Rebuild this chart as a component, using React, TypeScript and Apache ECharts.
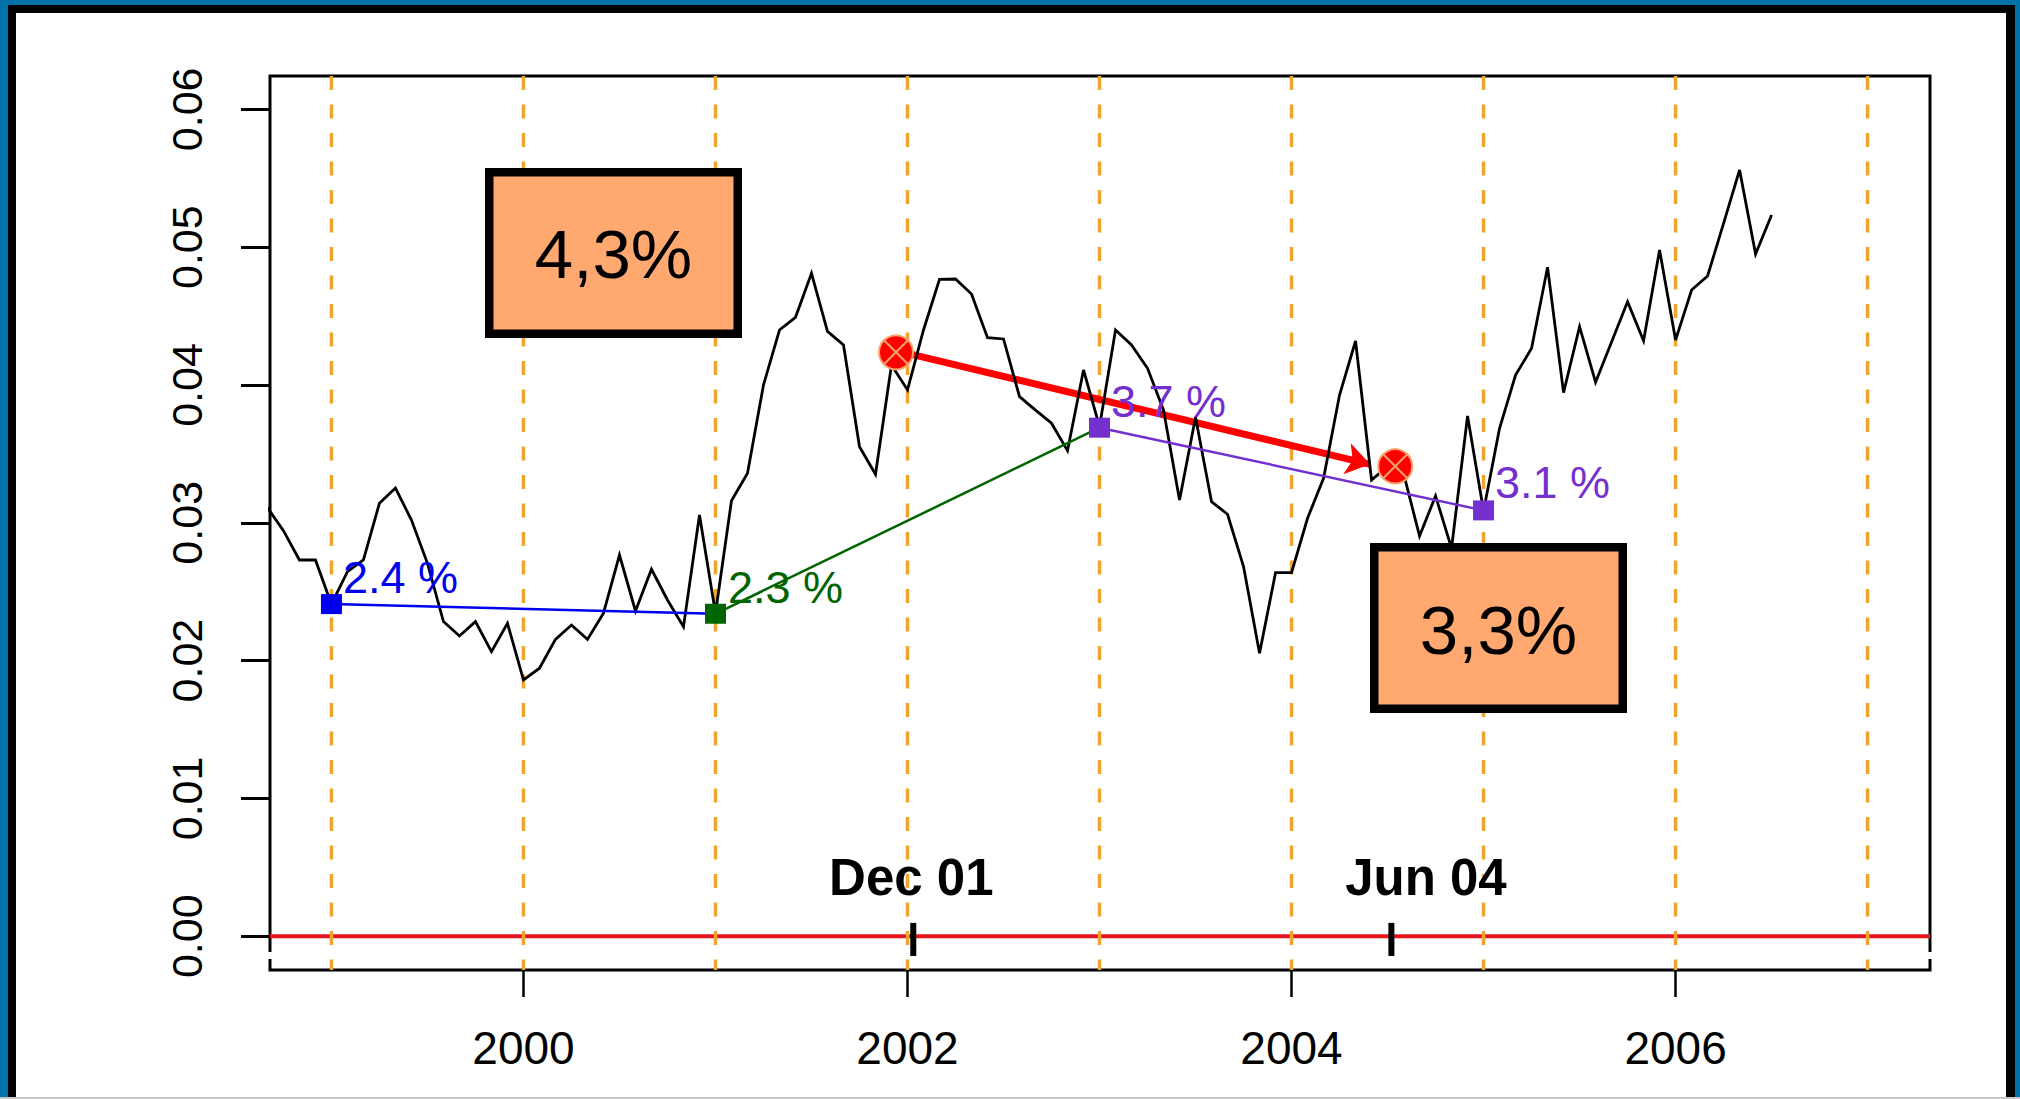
import React, { useEffect, useRef } from "react";
import * as echarts from "echarts";

const startYear = 1998 + 8 / 12;
const monthlyValues = [
  0.0311, 0.02943, 0.0273, 0.0273,
  0.02409, 0.02645, 0.0273, 0.03142, 0.03252, 0.0302, 0.02706, 0.02283, 0.02179, 0.02283, 0.02065, 0.02271,
  0.0186, 0.01945, 0.02154, 0.02258, 0.02154, 0.02344, 0.02766, 0.0236, 0.02663, 0.0244, 0.02246, 0.03057,
  0.02344, 0.0316, 0.03359, 0.04, 0.04399, 0.04491, 0.0481, 0.04389, 0.0429, 0.03552, 0.03352, 0.04145,
  0.03964, 0.04399, 0.04767, 0.04769, 0.0466, 0.04343, 0.04334, 0.03915, 0.03818, 0.03722, 0.03523, 0.04109,
  0.03697, 0.04399, 0.0429, 0.04121, 0.03818, 0.03165, 0.03766, 0.03153, 0.03062, 0.02682, 0.02053, 0.02638,
  0.02638, 0.03033, 0.03323, 0.03927, 0.04319, 0.03311, 0.03407, 0.03359, 0.02904, 0.03195, 0.02815, 0.03775,
  0.03086, 0.03686, 0.04072, 0.04266, 0.04854, 0.03944, 0.04423, 0.0402, 0.04312, 0.04604, 0.04321, 0.04979,
  0.04326, 0.04689, 0.04791, 0.05173, 0.0556, 0.0495, 0.05233,
];
const yearLines = [1999, 2000, 2001, 2002, 2003, 2004, 2005, 2006, 2007];
const xTicks = [2000, 2002, 2004, 2006];
const yTicks = [0, 0.01, 0.02, 0.03, 0.04, 0.05, 0.06];
const anchorYears = [1999, 2001, 2003, 2005];
const anchorValues = [0.0241, 0.0234, 0.0369, 0.0309];
const anchorLabels = ["2.4 %", "2.3 %", "3.7 %", "3.1 %"];
const eventYears = [2002.03, 2004.52];
const eventLabels = ["Dec 01", "Jun 04"];
const eventLabelYears = [2002.02, 2004.70];
const arrowFrom = [2002.016, 0.04224];
const arrowTo = [2004.41, 0.03424];
const circles = [[2001.94, 0.04237], [2004.54, 0.0341]];

const FONT = '"Liberation Sans", Arial, sans-serif';
const X_MIN = 1998.68;
const X_MAX = 2007.325;
const Y_MIN = -0.00245;
const Y_MAX = 0.06242;
const BLUE = "#0000EE";
const GREEN = "#006400";
const PURPLE = "#7430CF";
const ORANGE = "#F2A52B";
const FRAME = "#0070AA";
const SALMON = "#FFA970";
const anchorColors = [BLUE, GREEN, PURPLE, PURPLE];
const labelOffsets = [[1, -27], [2, -26], [1, -26], [1, -28]];

function App() {
  const ref = useRef<HTMLDivElement>(null);
  useEffect(() => {
    if (!ref.current) return;
    const chart = echarts.init(ref.current, undefined, { renderer: "svg" });
    const segment = (i: number, color: string) => ({
      type: "line",
      z: 7,
      symbol: "none",
      silent: true,
      lineStyle: { color, width: 2.5 },
      data: [
        [anchorYears[i], anchorValues[i]],
        [anchorYears[i + 1], anchorValues[i + 1]],
      ],
    });
    const frameRect = (x: number, y: number, width: number, height: number, fill: string, z = 30) => ({
      type: "rect",
      z,
      silent: true,
      shape: { x, y, width, height },
      style: { fill },
    });
    const box = (x: number, y: number, w: number, h: number, text: string, textY: number) => [
      {
        type: "rect",
        z: 20,
        silent: true,
        shape: { x: x + 4.25, y: y + 4.25, width: w - 8.5, height: h - 8.5 },
        style: { fill: SALMON, stroke: "#000", lineWidth: 8.5 },
      },
      {
        type: "text",
        z: 21,
        silent: true,
        style: {
          text,
          x: x + w / 2,
          y: textY,
          fill: "#000",
          fontSize: 69,
          fontFamily: FONT,
          align: "center",
          verticalAlign: "middle",
        },
      },
    ];
    chart.setOption({
      animation: false,
      backgroundColor: "#fff",
      grid: {
        show: true,
        left: 270,
        right: 2020 - 1930,
        top: 76,
        bottom: 1099 - 970,
        borderColor: "#000",
        borderWidth: 3,
        backgroundColor: "transparent",
      },
      xAxis: {
        type: "value",
        min: X_MIN,
        max: X_MAX,
        axisLine: { show: false, onZero: false },
        splitLine: { show: false },
        axisTick: { show: true, customValues: xTicks, length: 27, lineStyle: { color: "#000", width: 2.5 } },
        axisLabel: {
          customValues: xTicks,
          margin: 55,
          color: "#000",
          fontSize: 46,
          fontFamily: FONT,
          formatter: (v: number) => String(Math.round(v)),
        },
      },
      yAxis: {
        type: "value",
        min: Y_MIN,
        max: Y_MAX,
        axisLine: { show: false },
        splitLine: { show: false },
        axisTick: { show: true, customValues: yTicks, length: 29, lineStyle: { color: "#000", width: 3 } },
        axisLabel: {
          customValues: yTicks,
          rotate: 90,
          margin: 62,
          color: "#000",
          fontSize: 43,
          fontFamily: FONT,
          formatter: (v: number) => v.toFixed(2),
        },
      },
      series: [
        {
          type: "line",
          z: 3,
          symbol: "none",
          silent: true,
          lineStyle: { color: "#E8141C", width: 4 },
          data: [
            [X_MIN, 0],
            [X_MAX, 0],
          ],
        },
        ...yearLines.map((y) => ({
          type: "line",
          z: 4,
          symbol: "none",
          silent: true,
          lineStyle: { color: ORANGE, width: 3.5, type: [14, 14.5] },
          data: [
            [y, Y_MAX],
            [y, Y_MIN],
          ],
        })),
        {
          type: "line",
          z: 5,
          symbol: "none",
          silent: true,
          lineStyle: { color: "#000", width: 2.8, join: "miter" },
          data: monthlyValues.map((v, i) => [startYear + i / 12, v]),
        },
        segment(0, BLUE),
        segment(1, GREEN),
        segment(2, PURPLE),
        {
          type: "scatter",
          z: 8,
          symbol: "rect",
          symbolSize: [21, 20],
          silent: true,
          data: anchorYears.map((y, i) => ({
            value: [y, anchorValues[i]],
            itemStyle: { color: anchorColors[i], opacity: 1 },
            label: {
              show: true,
              position: "right",
              distance: 0,
              offset: labelOffsets[i],
              formatter: anchorLabels[i],
              color: anchorColors[i],
              fontSize: 45,
              fontFamily: FONT,
            },
          })),
        },
        {
          type: "scatter",
          z: 9,
          symbol: "circle",
          symbolSize: 34,
          silent: true,
          itemStyle: { color: "#FF0000", borderColor: "#F6A46C", borderWidth: 2, opacity: 1 },
          data: circles,
        },
        {
          type: "scatter",
          z: 10,
          symbol: "path://M0 0L10 10M10 0L0 10",
          symbolSize: 24,
          silent: true,
          itemStyle: { color: "none", borderColor: "#F6A46C", borderWidth: 2, opacity: 1 },
          data: circles,
        },
        {
          type: "line",
          z: 11,
          symbol: "none",
          silent: true,
          data: [],
          markLine: {
            silent: true,
            symbol: ["none", "arrow"],
            symbolSize: 24,
            label: { show: false },
            lineStyle: { color: "#FF0000", width: 7, type: "solid" },
            data: [[{ coord: arrowFrom }, { coord: arrowTo }]],
          },
        },
        ...eventYears.map((y) => ({
          type: "line",
          z: 12,
          symbol: "none",
          silent: true,
          lineStyle: { color: "#000", width: 6, cap: "butt" },
          data: [
            [y, 0.00097],
            [y, -0.00143],
          ],
        })),
        {
          type: "scatter",
          z: 12,
          symbolSize: 1,
          silent: true,
          itemStyle: { color: "transparent", opacity: 1 },
          data: eventLabels.map((t, i) => ({
            value: [eventLabelYears[i], 0.00427],
            label: {
              show: true,
              position: "inside",
              formatter: t,
              color: "#000",
              fontSize: 51,
              fontWeight: "bold",
              fontFamily: FONT,
            },
          })),
        },
      ],
      graphic: [
        frameRect(266, 952, 1668, 7, "#fff", 6),
        ...box(485, 168, 257, 170, "4,3%", 254),
        ...box(1370, 543, 257, 170, "3,3%", 630),
        frameRect(0, 0, 2020, 5, FRAME),
        frameRect(0, 0, 8, 1099, FRAME),
        frameRect(2015, 0, 5, 1099, FRAME),
        frameRect(8, 5, 2007, 8, "#000", 31),
        frameRect(8, 5, 8, 1094, "#000", 31),
        frameRect(2006, 5, 9, 1094, "#000", 31),
        frameRect(0, 1097, 2020, 2, "#C8C8C8", 32),
      ],
    });
    return () => chart.dispose();
  }, []);
  return <div ref={ref} style={{ position: "fixed", left: 0, top: 0, width: 2020, height: 1099 }} />;
}

export default App;
